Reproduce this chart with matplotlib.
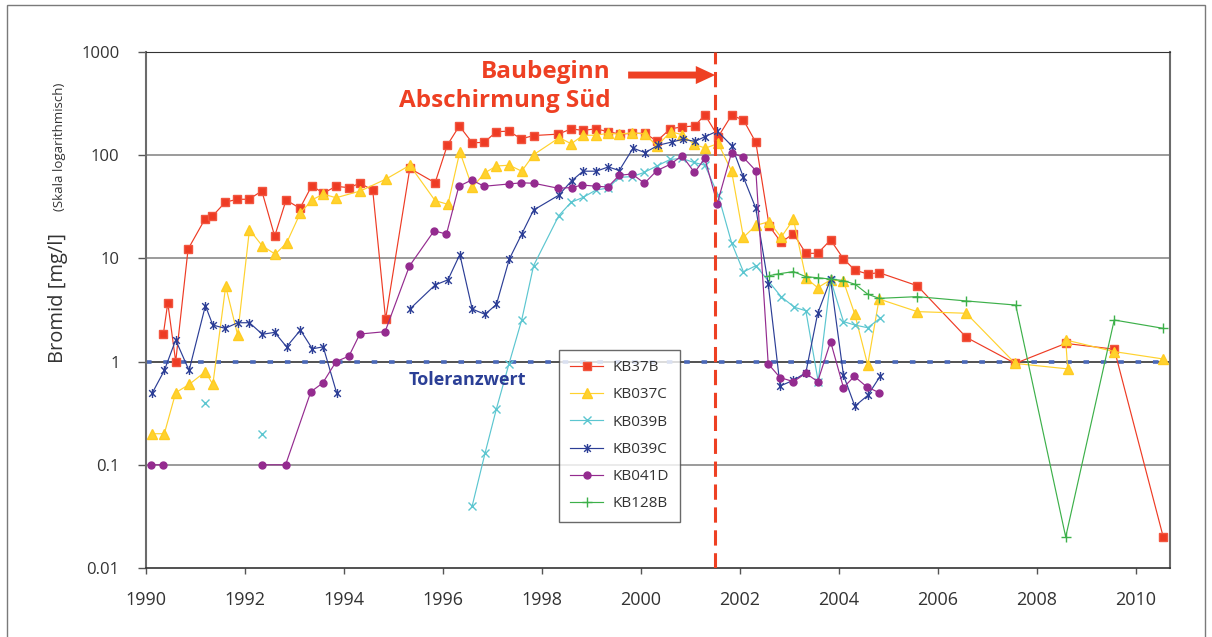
import numpy as np
import matplotlib
matplotlib.use('Agg')
import matplotlib.pyplot as plt
from matplotlib.path import Path
from matplotlib.patches import Rectangle

plt.rcParams['font.family'] = ['Open Sans', 'DejaVu Sans']
plt.rcParams['lines.scale_dashes'] = False

nan = np.nan

# --- data (decimal years, Bromid mg/l) ---
kb37b_t = [1990.35, 1990.44, 1990.60, 1990.85, 1991.19, 1991.34, 1991.60, 1991.84,
           1992.08, 1992.34, 1992.60, 1992.83, 1993.11, 1993.35, 1993.58, 1993.84,
           1994.10, 1994.32, 1994.58, 1994.84, 1995.33, 1995.84, 1996.09, 1996.33,
           1996.59, 1996.83, 1997.08, 1997.33, 1997.58, 1997.83, 1998.33, 1998.59,
           1998.82, 1999.09, 1999.34, 1999.58, 1999.82, 2000.08, 2000.32, 2000.59,
           2000.83, 2001.09, 2001.29, 2001.56, 2001.83, 2002.07, 2002.32, 2002.59,
           2002.83, 2003.08, 2003.33, 2003.57, 2003.83, 2004.09, 2004.32, 2004.58,
           2004.81, 2005.58, 2006.57, 2007.56, 2008.58, 2009.56, 2010.55]
kb37b_v = [1.84, 3.7, 1.0, 12.3, 24, 25.6, 35, 37.4,
           37.4, 45, 16.4, 36.8, 30.6, 50.7, 42.8, 50,
           48.4, 53.5, 46, 2.57, 74.6, 54, 126, 192,
           132, 133, 169, 171, 144, 155, 160, 180,
           174, 180, 169, 160, 163, 163, 137, 180,
           188, 192, 247, 151, 244, 219, 133, 20.6,
           14.3, 17.4, 11.2, 11.2, 15.1, 9.9, 7.7, 7.06,
           7.27, 5.44, 1.72, 0.96, 1.5, 1.32, 0.02]

kb037c_t = [1990.13, 1990.37, 1990.60, 1990.87, 1991.20, 1991.35, 1991.61, 1991.85,
            1992.09, 1992.35, 1992.61, 1992.84, 1993.12, 1993.36, 1993.58, 1993.84,
            1994.33, 1994.85, 1995.33, 1995.84, 1996.10, 1996.34, 1996.59, 1996.85,
            1997.08, 1997.34, 1997.59, 1997.83, 1998.35, 1998.59, 1998.83, 1999.09,
            1999.33, 1999.56, 1999.82, 2000.09, 2000.32, 2000.60, 2000.83, 2001.07,
            2001.30, 2001.56, 2001.83, 2002.07, 2002.32, 2002.59, 2002.83, 2003.08,
            2003.33, 2003.57, 2003.83, 2004.09, 2004.32, 2004.58, 2004.81, 2005.58,
            2006.57, 2007.56, 2008.62, 2008.58, 2009.56, 2010.55]
kb037c_v = [0.2, 0.2, 0.5, 0.6, 0.8, 0.6, 5.37, 1.82,
            19, 13.2, 11, 14.1, 27.7, 37, 42, 38.7,
            45, 58.8, 79.8, 36.3, 33.4, 108, 48.9, 67.7,
            78.6, 80, 70, 101, 148, 129, 156, 156,
            163, 160, 165, 160, 122, 169, 158, 128,
            117, 130, 70, 16, 20.9, 22.7, 16, 23.9,
            6.46, 5.2, 6.2, 6.0, 2.87, 0.93, 4.04, 3.05,
            2.94, 0.96, 0.85, 1.62, 1.25, 1.06]

kb039b_t = [1991.20, 1991.60, 1992.35, 1994.00, 1996.59, 1996.85, 1997.08, 1997.33,
            1997.59, 1997.83, 1998.34, 1998.59, 1998.83, 1999.09, 1999.33, 1999.56,
            1999.82, 2000.06, 2000.32, 2000.59, 2000.83, 2001.07, 2001.29, 2001.56,
            2001.83, 2002.07, 2002.32, 2002.83, 2003.10, 2003.33, 2003.58, 2003.83,
            2004.09, 2004.32, 2004.58, 2004.83]
kb039b_v = [0.4, nan, 0.2, nan, 0.04, 0.13, 0.35, 0.94,
            2.53, 8.5, 26, 35, 39, 46, 48, 61,
            62, 68, 78.6, 91, 93, 85, 80, 41,
            14.2, 7.4, 8.5, 4.26, 3.36, 3.11, 0.64, 6.2,
            2.44, 2.26, 2.13, 2.63]

kb039c_t = [1990.13, 1990.37, 1990.60, 1990.87, 1991.20, 1991.35, 1991.60, 1991.85,
            1992.09, 1992.35, 1992.60, 1992.84, 1993.12, 1993.36, 1993.58, 1993.85,
            1994.60, 1995.33, 1995.84, 1996.10, 1996.34, 1996.59, 1996.85, 1997.08,
            1997.34, 1997.59, 1997.83, 1998.34, 1998.60, 1998.83, 1999.10, 1999.34,
            1999.56, 1999.84, 2000.08, 2000.35, 2000.62, 2000.85, 2001.09, 2001.29,
            2001.54, 2001.83, 2002.07, 2002.32, 2002.57, 2002.81, 2003.08, 2003.33,
            2003.57, 2003.83, 2004.09, 2004.32, 2004.58, 2004.83]
kb039c_v = [0.5, 0.82, 1.62, 0.82, 3.48, 2.26, 2.1, 2.38,
            2.38, 1.84, 1.92, 1.39, 2.02, 1.33, 1.39, 0.5,
            nan, 3.23, 5.52, 6.2, 10.9, 3.23, 2.87, 3.59,
            9.86, 17.2, 29.4, 41, 56.6, 70, 70, 77,
            71, 117, 106, 125, 134, 143, 136, 151,
            171, 124, 61, 30.6, 5.65, 0.58, 0.66, 0.78,
            2.94, 6.27, 0.74, 0.37, 0.47, 0.72]

kb041d_t = [1990.11, 1990.35, 1991.30, 1992.34, 1992.82, 1993.33, 1993.57, 1993.84,
            1994.10, 1994.32, 1994.83, 1995.32, 1995.82, 1996.07, 1996.32, 1996.58,
            1996.83, 1997.33, 1997.58, 1997.83, 1998.33, 1998.60, 1998.81, 1999.10,
            1999.33, 1999.56, 1999.82, 2000.07, 2000.32, 2000.60, 2000.83, 2001.08,
            2001.29, 2001.54, 2001.83, 2002.07, 2002.32, 2002.57, 2002.81, 2003.08,
            2003.33, 2003.57, 2003.83, 2004.09, 2004.31, 2004.56, 2004.81]
kb041d_v = [0.1, 0.1, nan, 0.1, 0.1, 0.51, 0.62, 1.0,
            1.13, 1.85, 1.95, 8.4, 18.5, 17.2, 50, 57.5,
            50, 52.6, 54, 53.5, 47.8, 48.6, 51.4, 50,
            49.2, 63.8, 65.8, 53.5, 70.8, 82, 99, 68,
            93, 34, 106, 95, 70.8, 0.95, 0.70, 0.64,
            0.77, 0.64, 1.56, 0.56, 0.72, 0.57, 0.5]

kb128b_t = [2002.59, 2002.76, 2003.08, 2003.33, 2003.57, 2003.83, 2004.09, 2004.33,
            2004.58, 2004.81, 2005.58, 2006.57, 2007.57, 2008.58, 2009.56, 2010.55]
kb128b_v = [6.8, 7.06, 7.45, 6.65, 6.5, 6.3, 6.1, 5.6,
            4.5, 4.1, 4.26, 3.87, 3.53, 0.02, 2.53, 2.1]

y_ticks = [0.01, 0.1, 1, 10, 100, 1000]
y_labels = ['0.01', '0.1', '1', '10', '100', '1000']
x_ticks = list(range(1990, 2011, 2))
toleranz = 1.0
baubeginn = 2001.5

# Excel-style star: an x with a vertical bar
star = Path([(-1, -1), (1, 1), (-1, 1), (1, -1), (0, -1.35), (0, 1.35)],
            [Path.MOVETO, Path.LINETO, Path.MOVETO, Path.LINETO, Path.MOVETO, Path.LINETO])

series = [
    ('KB37B', kb37b_t, kb37b_v, dict(marker='s', ms=5.8, color='#EE3B24', mec='#F2553F')),
    ('KB037C', kb037c_t, kb037c_v, dict(marker='^', ms=7, color='#FFD22E', mec='#FFCC22')),
    ('KB039B', kb039b_t, kb039b_v, dict(marker='x', ms=5.5, color='#5CC6D0', mew=1)),
    ('KB039C', kb039c_t, kb039c_v, dict(marker=star, ms=6.5, color='#2C3E96', mew=1)),
    ('KB041D', kb041d_t, kb041d_v, dict(marker='o', ms=5, color='#942B8F')),
    ('KB128B', kb128b_t, kb128b_v, dict(marker='+', ms=7.5, color='#3DB04A', mew=1)),
]

fig = plt.figure(figsize=(12.12, 6.37), dpi=100)
ax = fig.add_axes([146 / 1212, 1 - 568 / 637, 1024 / 1212, 516 / 637])
ax.set_yscale('log')
ax.set_ylim(0.01, 1000)
ax.set_xlim(1990, 1990 + 1024 / 49.5)

ax.set_yticks(y_ticks)
ax.set_yticklabels(y_labels)
ax.yaxis.set_minor_locator(matplotlib.ticker.NullLocator())
ax.set_xticks(x_ticks)
ax.set_xticklabels([str(x) for x in x_ticks])
ax.tick_params(axis='y', length=6, width=1, color='#555555', pad=13, labelsize=12, labelcolor='#333333')
ax.tick_params(axis='x', length=4.5, width=1, color='#555555', pad=12, labelsize=13, labelcolor='#333333')

for yv in [0.1, 10, 100]:
    ax.axhline(yv, color='#8a8a8a', lw=1.2, zorder=1)
ax.axhline(toleranz, color='#222222', lw=1.1, zorder=1.5)
ax.axhline(toleranz, color='#4A68B8', lw=2.6, dashes=(4, 8.5), zorder=1.6)

for sp in ['left', 'right']:
    ax.spines[sp].set_color('#6b6b6b')
    ax.spines[sp].set_linewidth(1.5)
ax.spines['top'].set_color('#333333')
ax.spines['bottom'].set_color('#333333')
ax.spines['bottom'].set_linewidth(1.2)

for i, (name, t, v, st) in enumerate(series):
    ax.plot(t, v, lw=0.85, label=name, zorder=3 + i, **st)

ax.axvline(baubeginn, color='#EE4023', lw=2.2, dashes=(11, 5.5), zorder=10)

ax.text(1996.5, 0.66, 'Toleranzwert', color='#2B3F96', fontsize=13, fontweight='bold',
        ha='center', va='center', zorder=12)
ax.text(1999.39, 640, 'Baubeginn', color='#EE4023', fontsize=17.5, fontweight='bold',
        ha='right', va='center')
ax.text(1999.39, 335, 'Abschirmung Süd', color='#EE4023', fontsize=17.5, fontweight='bold',
        ha='right', va='center')
ax.annotate('', xy=(2001.5, 598), xytext=(1999.74, 598),
            arrowprops=dict(width=5, headwidth=13, headlength=14, shrink=0,
                            color='#EE4023', lw=0))

leg = ax.legend(loc='lower left', bbox_to_anchor=((559 - 146) / 1024, (568 - 522) / 516),
                borderaxespad=0, fontsize=11, frameon=True, fancybox=False,
                handlelength=2.2, labelspacing=0.8, borderpad=0.7, handletextpad=0.6)
leg.get_frame().set_edgecolor('#444444')
leg.get_frame().set_linewidth(1.0)
leg.set_zorder(20)
for txt in leg.get_texts():
    txt.set_color('#333333')

fig.text(63 / 1212, 1 - 363 / 637, 'Bromid [mg/l]', rotation=90, rotation_mode='anchor',
         ha='left', va='baseline', fontsize=14.5, color='#333333')
fig.text(63 / 1212, 1 - 211 / 637, '(Skala logarithmisch)', rotation=90, rotation_mode='anchor',
         ha='left', va='baseline', fontsize=9.5, color='#333333')

fig.patches.append(Rectangle((7 / 1212, -0.05), 1198 / 1212, 1.05 - 5 / 637,
                             transform=fig.transFigure, fill=False,
                             edgecolor='#7a7a7a', lw=1.0))

fig.savefig('out.png', dpi=100)
